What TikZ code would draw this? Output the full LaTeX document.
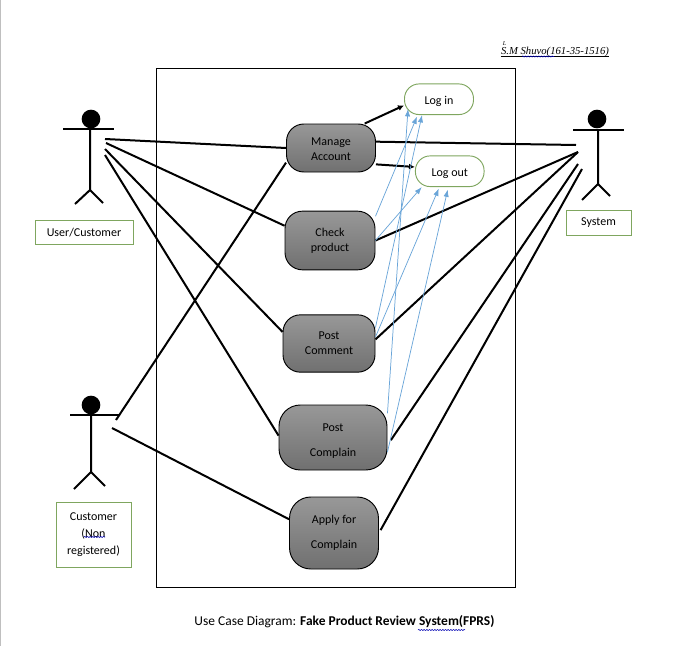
\documentclass[tikz,border=0pt]{standalone}
\usepackage{fontspec}
\setmainfont{Carlito}
\newfontfamily\namefont{Liberation Serif}
\usetikzlibrary{arrows.meta,calc,decorations.pathmorphing}
\definecolor{greentop}{HTML}{7FA65F}
\definecolor{bluearrow}{HTML}{6AA5D8}
\definecolor{usetop}{HTML}{989898}
\definecolor{usebot}{HTML}{707070}
\newcommand{\lowertext}[2]{\raisebox{-#1}[\height][\depth]{#2}}
\tikzset{
  usecase/.style={draw=black,line width=0.7pt,rounded corners=13pt,top color=usetop,bottom color=usebot,inner sep=0pt,align=center,font=\fontsize{9}{11.5}\selectfont},
  subcase/.style={draw=greentop,line width=0.7pt,fill=white,rounded corners=11pt,inner sep=0pt,font=\fontsize{9}{11.5}\selectfont},
  actorbox/.style={draw=greentop,line width=0.6pt,fill=white,inner sep=0pt,align=center,font=\fontsize{9}{12.5}\selectfont},
  actorhead/.style={circle,fill=black,inner sep=0pt,minimum size=14pt},
  stick/.style={line width=1.5pt,black},
  link/.style={line width=1.5pt,black},
  ext/.style={line width=1.5pt,black,-{Latex[length=4.5pt,width=4.5pt]}},
  inc/.style={line width=0.55pt,bluearrow,-{Latex[length=5.5pt,width=4pt]}},
  squiggle/.style={draw=blue!70!black,line width=0.4pt,decorate,decoration={snake,segment length=2pt,amplitude=0.45pt}}
}
\begin{document}
\begin{tikzpicture}[x=0.75pt,y=-0.75pt]
\useasboundingbox (0,0) rectangle (686,646);
\draw[gray!50,line width=0.75pt] (0.5,0) -- (0.5,646);
% System boundary
\draw[line width=0.75pt] (156.5,68.5) rectangle (515.5,587);
% Author
\node[font=\namefont\itshape\fontsize{8}{10}\selectfont,inner sep=0pt] (author) at (555,51.5) {S.M Shuvo(161-35-1516)};
\node[font=\namefont\itshape\fontsize{4.5}{5}\selectfont,inner sep=0pt] (authormark) at (504.5,43.5) {L};
\draw[line width=0.5pt] (author.south west |- 0,56.5) -- (author.south east |- 0,56.5);
\draw[squiggle] (522,56.5) -- (554,56.5);
% Use cases
\node[usecase,minimum width=66.75pt,minimum height=36pt] (manage) at (331,148) {\lowertext{0.75pt}{Manage}\\\lowertext{0.75pt}{Account}};
\node[usecase,minimum width=67.5pt,minimum height=44pt] (check) at (330,240.5) {Check\\product};
\node[usecase,minimum width=69pt,minimum height=43pt] (comment) at (329,343.5) {Post\\Comment};
\node[usecase,minimum width=81pt,minimum height=48.75pt,rounded corners=16pt] (complain) at (333,437.5) {\lowertext{2.6pt}{Post}\\[7.5pt]\lowertext{2.6pt}{Complain}};
\node[usecase,minimum width=66.75pt,minimum height=54pt,rounded corners=16pt] (apply) at (334,533) {Apply for\\[7.5pt]Complain};
\node[subcase,minimum width=51.75pt,minimum height=23pt] (login) at (439,99.25) {\lowertext{1.5pt}{Log in}};
\node[subcase,minimum width=51.5pt,minimum height=23pt] (logout) at (449.75,171.25) {\lowertext{1.5pt}{Log out}};
% User/Customer actor
\node[actorhead] (userhead) at (91,119) {};
\draw[stick] (63,129) -- (114,129);
\draw[stick] (90,129) -- (90,190) -- (75,204);
\draw[stick] (90,190) -- (103,203);
\node[actorbox,minimum width=73.5pt,minimum height=18pt] (userbox) at (84,232) {\lowertext{0.75pt}{User/Customer}};
\coordinate (usera) at (105,139);
\coordinate (userb) at (106,143);
\coordinate (userc) at (105,149);
\coordinate (userd) at (105,155);
% Customer actor
\node[actorhead] (custhead) at (91,405) {};
\draw[stick] (70,415) -- (120,415);
\draw[stick] (91,415) -- (91,472) -- (74,489);
\draw[stick] (91,472) -- (105,486);
\node[actorbox,minimum width=56.25pt,minimum height=48.75pt] (custbox) at (93.5,534.5) {Customer\\(Non\\registered)};
\draw[squiggle] (84,537) -- (105,537);
\coordinate (custa) at (116,420);
\coordinate (custb) at (112,428);
% System actor
\node[actorhead] (syshead) at (597,119) {};
\draw[stick] (573,130) -- (624,130);
\draw[stick] (598,130) -- (598,184) -- (582,200);
\draw[stick] (598,184) -- (610,196);
\node[actorbox,minimum width=48.75pt,minimum height=18.75pt] (sysbox) at (598.5,222.5) {System};
\coordinate (sysa) at (576,145);
\coordinate (sysb) at (578,152);
\coordinate (sysc) at (578,164);
\coordinate (sysd) at (582,169);
% Actor links
\draw[link] (usera) -- (manage.west);
\draw[link] (userb) -- (check.162);
\draw[link] (userc) -- (comment.166);
\draw[link] (userd) -- (complain.178);
\draw[link] (custa) -- (manage.198);
\draw[link] (custb) -- (apply.163);
\draw[link] (manage.8) -- (sysa);
\draw[link] (check.east) -- (sysb);
\draw[link] (comment.5) -- (sysb);
\draw[link,shorten <=4.5pt] (complain.-8) -- (sysc);
\draw[link,shorten <=2.5pt] (apply.east) -- (sysd);
% Manage Account arrows
\draw[ext] (manage.36) -- (login.190);
\draw[ext] (manage.340) -- (logout.173);
% Blue arrows
\draw[inc] (check.28) -- ($(login.south)+(-22,1.5)$);
\draw[inc] (check.east) -- ($(logout.south)+(-28,0)$);
\draw[inc] (comment.19) -- ($(login.south)+(-17,0)$);
\draw[inc] (comment.8) -- ($(logout.south)+(-11,1.5)$);
\draw[inc] (complain.24) -- ($(login.south)+(-31,-6)$);
\draw[inc] (complain.345) -- ($(logout.south)+(-2,2.5)$);
% Caption
\node[inner sep=0pt,font=\fontsize{10.1}{12}\selectfont] (caption) at (344.5,622) {Use Case Diagram: \textbf{Fake Product Review System(FPRS)}};
\draw[squiggle] (418,630) -- (465,630);
\end{tikzpicture}
\end{document}
